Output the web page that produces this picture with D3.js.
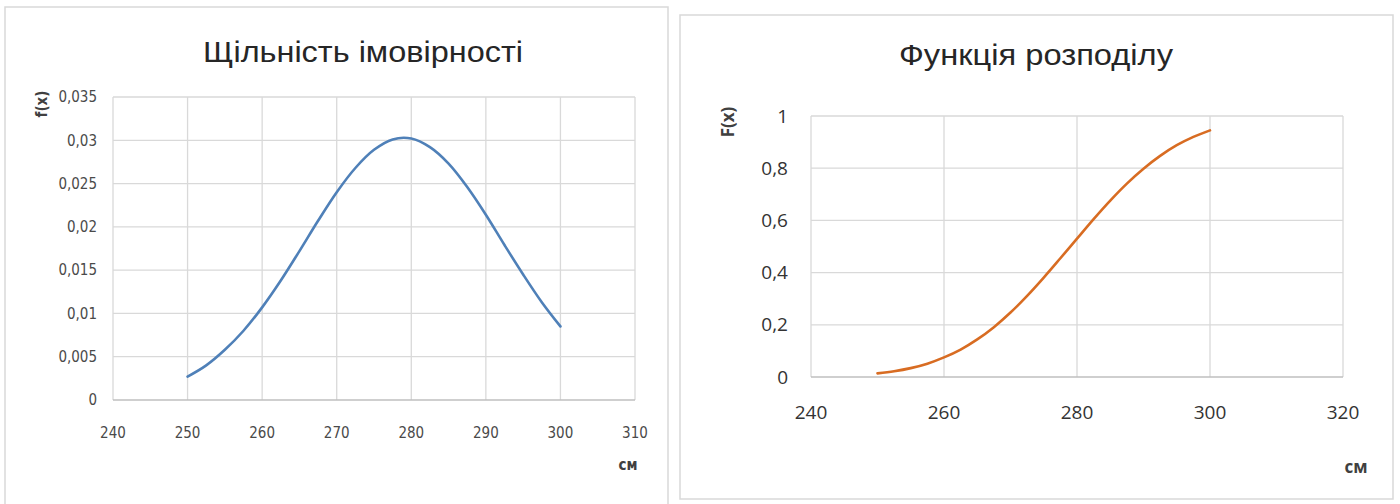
<!DOCTYPE html>
<html>
<head>
<meta charset="utf-8">
<script src="https://cdn.jsdelivr.net/npm/d3@7"></script>
<style>
  html, body { margin: 0; padding: 0; background: #ffffff; }
  svg { display: block; }
  .narrow { font-family: "Liberation Sans Narrow", "DejaVu Sans Condensed", "DejaVu Sans", sans-serif; font-stretch: condensed; }
  .sans { font-family: "Open Sans", "Noto Sans", sans-serif; }
  .title { font-family: "Liberation Sans", Arial, sans-serif; }
</style>
</head>
<body>
<svg id="chart" width="1400" height="504"></svg>
<script>
// Height values in cm
const heights = [250, 252.5, 255, 257.5, 260, 262.5, 265, 267.5, 270, 272.5, 275,
                 277.5, 280, 282.5, 285, 287.5, 290, 292.5, 295, 297.5, 300];

// Probability density f(x)
const density = [0.0027, 0.0040, 0.0058, 0.0080, 0.0107, 0.0138, 0.0172, 0.0207, 0.0240,
                 0.0268, 0.0289, 0.0301, 0.0302, 0.0292, 0.0273, 0.0246, 0.0214, 0.0179,
                 0.0145, 0.0113, 0.0085];

// Cumulative distribution F(x)
const cumulative = [0.014, 0.022, 0.034, 0.051, 0.075, 0.105, 0.144, 0.191, 0.247,
                    0.311, 0.381, 0.455, 0.530, 0.605, 0.676, 0.741, 0.798, 0.847,
                    0.888, 0.920, 0.945];

// Axis ticks
const densityXTicks = [240, 250, 260, 270, 280, 290, 300, 310];
const densityYTicks = [0, 0.005, 0.01, 0.015, 0.02, 0.025, 0.03, 0.035];
const cumulativeXTicks = [240, 260, 280, 300, 320];
const cumulativeYTicks = [0, 0.2, 0.4, 0.6, 0.8, 1];

// Texts
const densityTitle = "Щільність імовірності";
const cumulativeTitle = "Функція розподілу";
const densityYLabel = "f(x)";
const cumulativeYLabel = "F(x)";
const unitLabel = "см";

const svg = d3.select("#chart");
const comma = v => String(v).replace(".", ",");

function panel(cfg) {
  const g = svg.append("g");
  g.append("rect")
    .attr("x", cfg.box[0]).attr("y", cfg.box[1])
    .attr("width", cfg.box[2]).attr("height", cfg.box[3])
    .attr("fill", "#ffffff").attr("stroke", "#d9d9d9").attr("stroke-width", 1.5);

  const x = d3.scaleLinear().domain(cfg.xDomain).range(cfg.xRange);
  const y = d3.scaleLinear().domain(cfg.yDomain).range(cfg.yRange);

  // grid
  g.append("g").selectAll("line").data(cfg.yTicks.slice(1)).join("line")
    .attr("x1", cfg.xRange[0]).attr("x2", cfg.xRange[1])
    .attr("y1", d => y(d)).attr("y2", d => y(d))
    .attr("stroke", "#d9d9d9").attr("stroke-width", 1.3);
  g.append("g").selectAll("line").data(cfg.xTicks).join("line")
    .attr("x1", d => x(d)).attr("x2", d => x(d))
    .attr("y1", cfg.yRange[0]).attr("y2", cfg.yRange[1])
    .attr("stroke", "#d9d9d9").attr("stroke-width", 1.3);
  // baseline
  g.append("line")
    .attr("x1", cfg.xRange[0]).attr("x2", cfg.xRange[1])
    .attr("y1", y(0)).attr("y2", y(0))
    .attr("stroke", "#bfbfbf").attr("stroke-width", 1.6);

  // tick labels
  g.append("g").selectAll("text").data(cfg.yTicks).join("text")
    .attr("class", cfg.tickClass)
    .attr("x", cfg.yLabelX).attr("y", d => y(d))
    .attr("dy", "0.35em").attr("text-anchor", "end")
    .attr("font-size", cfg.tickSize).attr("fill", cfg.tickColor)
    .text(d => comma(d));
  g.append("g").selectAll("text").data(cfg.xTicks).join("text")
    .attr("class", cfg.tickClass)
    .attr("x", d => x(d)).attr("y", cfg.xLabelY)
    .attr("dy", "0.35em").attr("text-anchor", "middle")
    .attr("font-size", cfg.tickSize).attr("fill", cfg.tickColor)
    .text(d => d);

  // curve
  const line = d3.line().x((d, i) => x(heights[i])).y(d => y(d)).curve(d3.curveCatmullRom);
  g.append("path").datum(cfg.values)
    .attr("d", line).attr("fill", "none")
    .attr("stroke", cfg.color).attr("stroke-width", 2.6)
    .attr("stroke-linecap", "round");

  // title
  g.append("text").attr("class", "title")
    .attr("x", cfg.titlePos[0]).attr("y", cfg.titlePos[1])
    .attr("text-anchor", "middle").attr("font-size", cfg.titleSize).attr("fill", "#262626")
    .attr("textLength", cfg.titleWidth).attr("lengthAdjust", "spacingAndGlyphs")
    .text(cfg.title);

  // y axis name
  g.append("text").attr("class", cfg.tickClass)
    .attr("transform", `translate(${cfg.yNamePos[0]},${cfg.yNamePos[1]}) rotate(-90)`)
    .attr("text-anchor", "middle").attr("dy", "0.35em")
    .attr("font-size", cfg.nameSize).attr("font-weight", "bold").attr("fill", "#404040")
    .text(cfg.yName);

  // unit
  g.append("text").attr("class", cfg.tickClass)
    .attr("x", cfg.unitPos[0]).attr("y", cfg.unitPos[1])
    .attr("text-anchor", "middle").attr("dy", "0.35em")
    .attr("font-size", cfg.nameSize).attr("font-weight", "bold").attr("fill", "#404040")
    .text(unitLabel);
}

panel({
  box: [5, 7, 663, 505],
  xDomain: [240, 310], xRange: [113, 635],
  yDomain: [0, 0.035], yRange: [400, 97],
  xTicks: densityXTicks, yTicks: densityYTicks,
  values: density, color: "#4f80b8",
  tickClass: "narrow", tickSize: 15, tickColor: "#4a4a4a",
  yLabelX: 97, xLabelY: 433,
  title: densityTitle, titlePos: [363, 62], titleSize: 30, titleWidth: 320,
  yName: densityYLabel, yNamePos: [42, 104], nameSize: 15,
  unitPos: [628, 465]
});

panel({
  box: [680, 15, 713, 484],
  xDomain: [240, 320], xRange: [811, 1343],
  yDomain: [0, 1], yRange: [377, 116],
  xTicks: cumulativeXTicks, yTicks: cumulativeYTicks,
  values: cumulative, color: "#d86c22",
  tickClass: "sans", tickSize: 19, tickColor: "#333333",
  yLabelX: 788, xLabelY: 412,
  title: cumulativeTitle, titlePos: [1036, 65], titleSize: 29, titleWidth: 274,
  yName: cumulativeYLabel, yNamePos: [728, 122], nameSize: 17,
  unitPos: [1356, 467]
});
</script>
</body>
</html>
